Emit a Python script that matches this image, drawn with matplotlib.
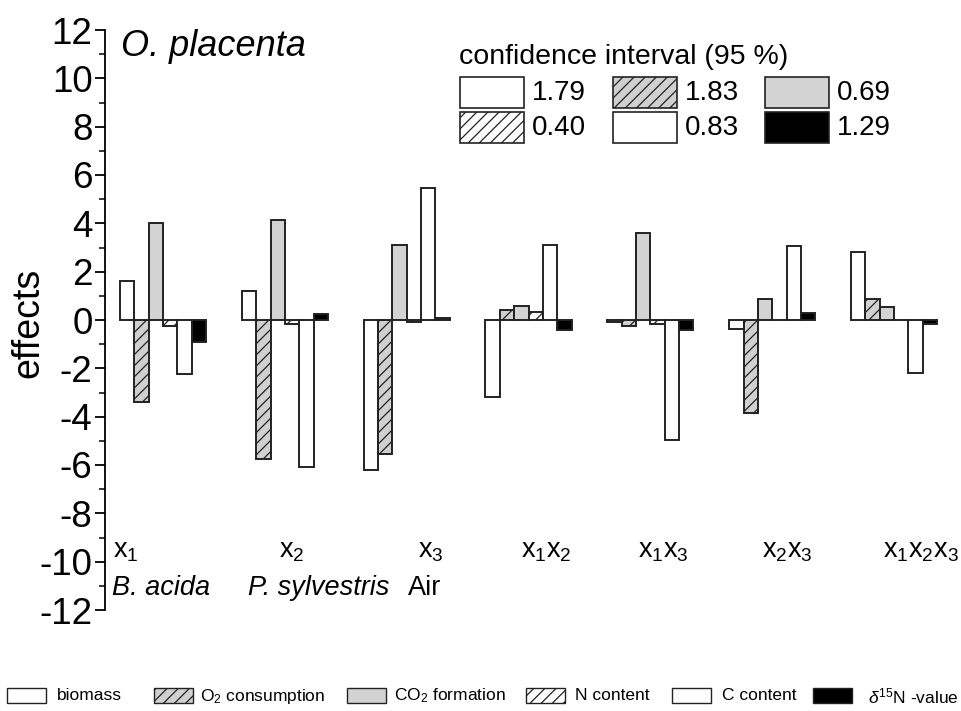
import numpy as np
import matplotlib.pyplot as plt
from matplotlib.patches import Rectangle

plt.rcParams['font.family'] = ['Liberation Sans', 'DejaVu Sans']
plt.rcParams['mathtext.fontset'] = 'custom'
plt.rcParams['mathtext.rm'] = 'Liberation Sans'
plt.rcParams['mathtext.it'] = 'Liberation Sans:italic'
plt.rcParams['axes.unicode_minus'] = False
plt.rcParams['hatch.color'] = '#555555'
plt.rcParams['hatch.linewidth'] = 0.9

### data
groups = ['x$_1$', 'x$_2$', 'x$_3$', 'x$_1$x$_2$', 'x$_1$x$_3$', 'x$_2$x$_3$', 'x$_1$x$_2$x$_3$']
factor_names = ['B. acida', 'P. sylvestris', 'Air']
series = ['biomass', 'O$_2$ consumption', 'CO$_2$ formation', 'N content', 'C content',
          r'$\delta^{15}$N -value']
biomass = [1.6, 1.2, -6.2, -3.2, -0.08, -0.37, 2.8]
o2_consumption = [-3.4, -5.75, -5.55, 0.4, -0.25, -3.85, 0.87]
co2_formation = [4.0, 4.15, 3.1, 0.6, 3.6, 0.85, 0.55]
n_content = [-0.25, -0.17, -0.1, 0.32, -0.15, 0.0, 0.0]
c_content = [-2.25, -6.08, 5.45, 3.1, -4.97, 3.05, -2.2]
d15n = [-0.93, 0.25, 0.1, -0.4, -0.42, 0.3, -0.18]
ci_values = [1.79, 1.83, 0.69, 0.40, 0.83, 1.29]

values = [biomass, o2_consumption, co2_formation, n_content, c_content, d15n]
faces = ['white', '#d0d0d0', '#d3d3d3', 'white', 'white', 'black']
hatches = [None, '///', None, '///', None, None]

W, H = 961, 711
fig = plt.figure(figsize=(W / 100, H / 100), dpi=100)

def fx(x):
    return x / W

def fy(y):
    return 1 - y / H

# axes placed in pixel terms
ax = fig.add_axes([fx(105), fy(610), fx(955) - fx(105), fy(30) - fy(610)])

step = 8.49
pxw = 14.35
for j in range(6):
    xs = np.arange(len(groups)) * step + j
    ax.bar(xs, values[j], width=1, align='edge', color=faces[j], hatch=hatches[j],
           edgecolor='#222222', linewidth=1.4)

ax.set_xlim((105 - 120) / pxw, (955 - 120) / pxw)
ax.set_ylim(-12, 12)
ax.set_yticks(np.arange(-12, 13, 2))
ax.set_yticks(np.arange(-12, 13, 1), minor=True)
ax.tick_params(axis='y', which='major', length=7, width=1.3, labelsize=26.5, pad=2, direction='out')
ax.tick_params(axis='y', which='minor', length=4, width=1.1, direction='out')
ax.set_xticks([])
for s in ['top', 'right', 'bottom']:
    ax.spines[s].set_visible(False)
ax.spines['left'].set_linewidth(1.3)
ax.set_ylabel('effects', fontsize=27)
ax.yaxis.set_label_coords((46 - 105) / 850, (610 - 323) / 580)

# group labels
label_off = [-0.5, 2.6, 3.8, 2.5, 2.15, 2.3, 2.2]
for g, lab in enumerate(groups):
    ax.text(g * step + label_off[g], -9.55, lab, fontsize=19.5, ha='left', va='center')
name_x = [-0.55, 8.95, 20.1]
for nx, nm in zip(name_x, factor_names):
    ax.text(nx, -11.1, nm, fontsize=19.5, ha='left', va='center',
            style='normal' if nm == 'Air' else 'italic')

ax.text(0.1, 11.3, 'O. placenta', fontsize=26, style='italic', ha='left', va='center')

# confidence interval box
fig.text(fx(459), fy(57), 'confidence interval (95 %)', fontsize=20.5, ha='left', va='center')
box_x = [460, 613, 765]
box_y = [77, 112]
for k, ci in enumerate(ci_values):
    r, c = divmod(k, 3)
    x0, y0 = box_x[c], box_y[r]
    fig.patches.append(Rectangle((fx(x0), fy(y0 + 31)), fx(64), 31 / H, transform=fig.transFigure,
                                 facecolor=faces[k], hatch=hatches[k], edgecolor='#222222',
                                 linewidth=1.2))
    fig.text(fx(x0 + 72), fy(y0 + 16), f'{ci:.2f}', fontsize=20, ha='left', va='center')

# bottom legend
leg_box = [7, 154, 347, 526, 672, 813]
leg_txt = [57, 200, 394, 575, 722, 868]
for k, nm in enumerate(series):
    fig.patches.append(Rectangle((fx(leg_box[k]), fy(703)), fx(39), 15 / H, transform=fig.transFigure,
                                 facecolor=faces[k], hatch=hatches[k], edgecolor='#222222',
                                 linewidth=1.0))
    fig.text(fx(leg_txt[k]), fy(696), nm, fontsize=12.5, ha='left', va='center')

plt.savefig('out.png', dpi=100)
